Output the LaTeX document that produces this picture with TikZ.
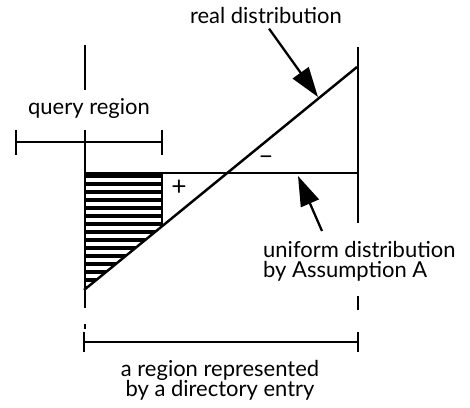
\documentclass[tikz,border=0pt]{standalone}
\usepackage{fontspec}
\setmainfont{Lato}
\usetikzlibrary{arrows.meta}

\begin{document}
\begin{tikzpicture}[x=0.02cm,y=-0.02cm,line width=1.4pt,
    font=\fontsize{12.5pt}{11.5pt}\selectfont,
    label/.style={inner sep=0pt,align=center},
    sign/.style={inner sep=0pt,font=\fontsize{15pt}{15pt}\selectfont},
    bigarrow/.style={-{Triangle[length=17pt,width=11pt]},line width=1.3pt},
    hatch/.style={line width=2.2pt}]
\useasboundingbox (0,0) rectangle (470,407);

% hatched part of the query region
\begin{scope}
  \clip (84,173) -- (162,173) -- (162,226) -- (84,290) -- cycle;
  \foreach \y in {176,184,...,292}
    \draw[hatch] (84,\y) -- (162,\y);
\end{scope}

% the region of the directory entry
\draw (85,45) -- (85,90);
\draw (85,130) -- (85,308);
\draw (85,324) -- (85,329);
\draw (358,47) -- (358,223);
\draw (358,296) -- (358,310);

% distributions
\coordinate (lowend) at (84,290);
\coordinate (highend) at (357,67);
\coordinate (uniend) at (358,173);
\draw (lowend) -- (highend);
\draw (85,173) -- (uniend);
\draw (162,173) -- (162,226);
\node[sign] (plus) at (179,188) {+};
\node[sign] (minus) at (266,160) {--};

% query region
\node[label] (query) at (89,108) {query region};
\draw (16,130) -- (16,155);
\draw (162,130) -- (162,155);
\draw (16,142) -- (162,142);

% labels with arrows
\node[label] (real) at (266,15) {real distribution};
\coordinate (realtip) at (318,97);
\draw[bigarrow,shorten <=3pt] (real.south) -- (realtip);

\node[label,anchor=north west,align=left] (uni) at (262,240)
  {uniform distribution\\by Assumption A};
\coordinate (unitail) at (322,231);
\coordinate (unitip) at (298,176);
\draw[bigarrow] (unitail) -- (unitip);

% the directory entry
\draw (84,332) -- (84,352);
\draw (358,332) -- (358,352);
\draw (84,342) -- (358,342);
\node[label] (entry) at (220,380) {a region represented\\by a directory entry};
\end{tikzpicture}
\end{document}
